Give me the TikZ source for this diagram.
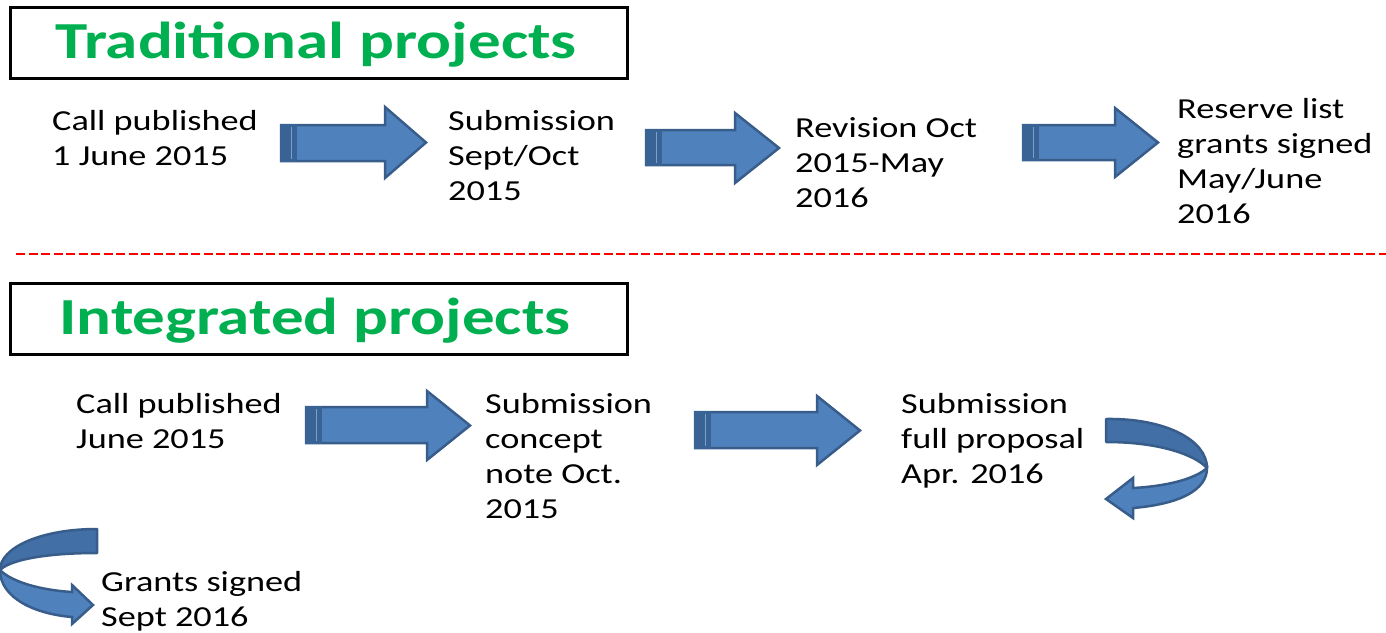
\documentclass[tikz,border=0pt]{standalone}
\usepackage{fontspec}
\setmainfont{Carlito}[FakeStretch=1.25]
\definecolor{offgreen}{HTML}{00B050}
\definecolor{arrfill}{HTML}{4F81BD}
\definecolor{arrline}{HTML}{385D8A}
\definecolor{arrstrip}{HTML}{3A6395}
\definecolor{arrback}{HTML}{416FA6}
\definecolor{striplight}{HTML}{7A9FD0}
\newcommand\fl{\rule{0pt}{24pt}}
\newcommand\blkarrow[7]{%
  \draw[arrowshape] (#1,#2) -- (#4,#2) -- (#4,#5) -- (#7,{(#5+#6)/2}) -- (#4,#6) -- (#4,#3) -- (#1,#3) -- cycle;
  \fill[arrowstrip] ({#1-1.2},{#2-1.2}) rectangle ({#1+16},{#3+1.2});
  \draw[stripline] ({#1+10},{#2+2}) -- ({#1+10},{#3-2});
}
\begin{document}
\begin{tikzpicture}[x=1pt,y=-1pt,
  body/.style={anchor=north west, inner sep=0pt, align=left, text=black, font=\fontsize{29}{35}\selectfont},
  titletext/.style={anchor=base, inner sep=0pt, text=offgreen, font=\fontsize{52}{60}\selectfont\bfseries},
  titlebox/.style={draw=black, line width=3pt, minimum width=617pt, minimum height=71pt, inner sep=0pt},
  arrowshape/.style={fill=arrfill, draw=arrline, line width=2.5pt, line join=miter},
  arrowstrip/.style={fill=arrstrip},
  stripline/.style={draw=striplight, line width=0.8pt},
  curveback/.style={fill=arrback, draw=arrline, line width=2.5pt, line join=round},
  curvefront/.style={fill=arrfill, draw=arrline, line width=2.5pt, line join=miter},
  sepline/.style={draw=red, line width=2pt, dash pattern=on 9pt off 3.5pt}]
\useasboundingbox (0,0) rectangle (1386,632);
% titles
\node[titlebox] (box1) at (318.5,42.5) {};
\node[titletext] (title1) at (316,58) {Traditional projects};
\node[titlebox] (box2) at (318.5,318.5) {};
\node[titletext] (title2) at (315,334) {Integrated projects};
% separator
\coordinate (sepL) at (16,254);
\coordinate (sepR) at (1386,254);
\draw[sepline] (sepL) -- (sepR);
% traditional texts
\node[body] (t1) at (52,106) {\fl Call published\\1 June 2015};
\node[body] (t2) at (448,106) {\fl Submission\\Sept/Oct\\2015};
\node[body] (t3) at (795,113) {\fl Revision Oct\\2015-May\\2016};
\node[body] (t4) at (1177,94) {\fl Reserve list\\grants signed\\May/June\\2016};
% integrated texts
\node[body] (i1) at (76,389) {\fl Call published\\June 2015};
\node[body] (i2) at (485,389) {\fl Submission\\concept\\note Oct.\\2015};
\node[body] (i3) at (901,389) {\fl Submission\\full proposal\\Apr. 2016};
\node[body] (i4) at (101,567) {\fl Grants signed\\Sept 2016};
% block arrows
\blkarrow{281}{125}{161}{385}{107}{178}{426}
\blkarrow{646}{130}{165}{735}{113}{183}{779}
\blkarrow{1023}{125}{160}{1115}{108}{177}{1158}
\blkarrow{306}{407}{443}{427}{391}{460}{470}
\blkarrow{695}{412}{448}{817}{396}{465}{860}
% curved arrow right
\draw[curveback] (1106,419) .. controls (1165,418) and (1207,440) .. (1207,468) .. controls (1195,455) and (1160,442) .. (1106,442) -- cycle;
\draw[curvefront] (1207,468) .. controls (1207,490) and (1180,504) .. (1133,508) -- (1133,518) -- (1106,499) -- (1133,478) -- (1133,488) .. controls (1170,486) and (1196,478) .. (1207,468) -- cycle;
% curved arrow left
\draw[curveback] (97,529) .. controls (40,529) and (0,548) .. (0,570) .. controls (10,560) and (45,553) .. (97,553) -- cycle;
\draw[curvefront] (0,570) .. controls (0,598) and (35,614) .. (72,617) -- (72,624) -- (93,605) -- (72,585) -- (72,592) .. controls (40,590) and (12,582) .. (0,570) -- cycle;
\end{tikzpicture}
\end{document}
